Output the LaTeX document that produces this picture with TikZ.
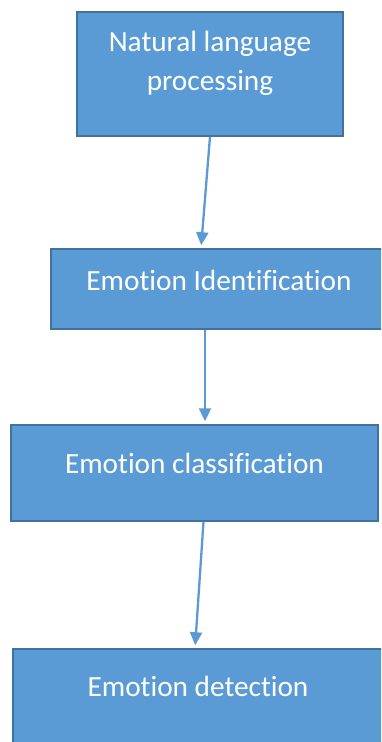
\documentclass[tikz,border=0pt]{standalone}
\usepackage{fontspec}
\setmainfont[Ligatures=NoCommon]{Carlito}
\usetikzlibrary{arrows.meta}
\definecolor{boxblue}{HTML}{5B9BD5}
\definecolor{boxline}{HTML}{41719C}

\begin{document}
\begin{tikzpicture}[x=1pt, y=-1pt,
   every node/.style={draw=boxline, line width=1.5pt, fill=boxblue, text=white,
                      font=\fontsize{29.3}{39}\selectfont, align=center, inner sep=0pt},
   flow/.style={draw=boxblue, line width=2.3pt, -{Triangle[width=12pt,length=13pt]},
                shorten >=3pt}]

\clip (0,0) rectangle (381,742);

\node[minimum width=266pt, minimum height=124pt, text depth=26pt] (nlp) at (210,74)
    {Natural language\\processing};
\node[minimum width=336pt, minimum height=80pt, text height=20pt, text depth=18pt] (ident) at (219,289)
    {Emotion Identification};
\node[minimum width=367pt, minimum height=96pt, text height=20pt, text depth=20pt] (classif) at (194.5,473)
    {Emotion classification};
\node[minimum width=370pt, minimum height=96pt, text height=20pt, text depth=22pt] (detect) at (198,697)
    {Emotion detection};

\draw[flow] (nlp.south) -- ([xshift=-18pt]ident.north);
\draw[flow] ([xshift=-14pt]ident.south) -- ([xshift=10.5pt]classif.north);
\draw[flow] ([xshift=9pt]classif.south) -- ([xshift=-3pt]detect.north);

\end{tikzpicture}
\end{document}
